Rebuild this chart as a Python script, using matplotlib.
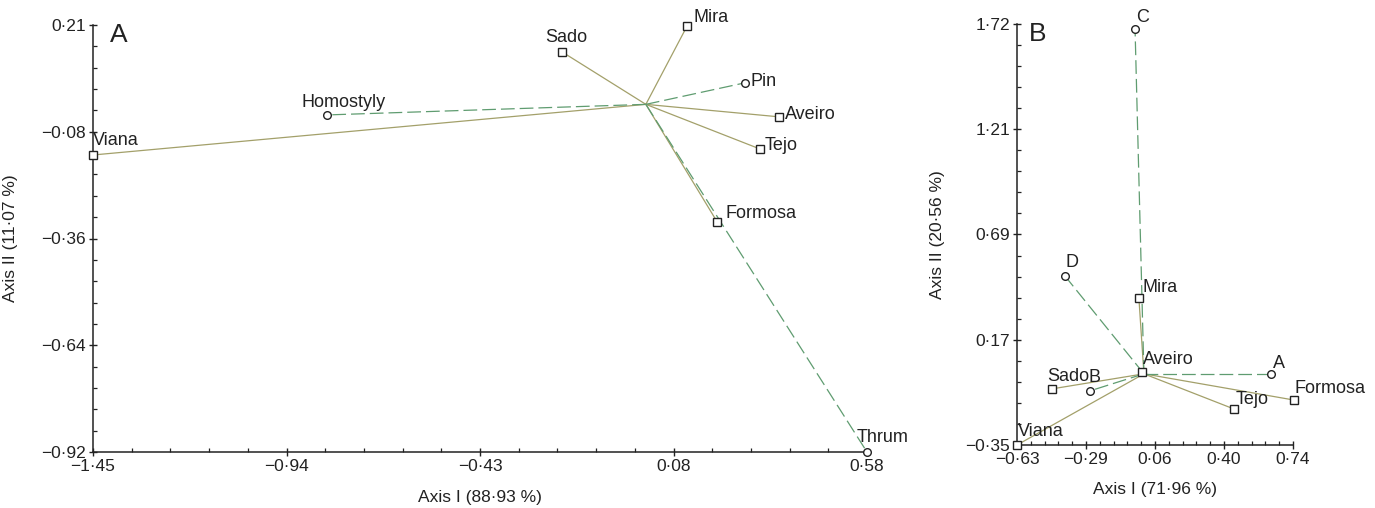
import numpy as np
import matplotlib
matplotlib.use("Agg")
import matplotlib.pyplot as plt
from matplotlib.ticker import FixedLocator

plt.rcParams['font.family'] = ['Liberation Sans', 'DejaVu Sans']

# ---- Panel A data (scores on axis I / axis II) ----
a_pops = ['Viana', 'Sado', 'Mira', 'Aveiro', 'Tejo', 'Formosa']
a_pop_x = [-1.45, -0.22, 0.108, 0.349, 0.299, 0.187]
a_pop_y = [-0.134, 0.139, 0.207, -0.033, -0.118, -0.311]
a_morphs = ['Homostyly', 'Pin', 'Thrum']
a_morph_x = [-0.836, 0.26, 0.58]
a_morph_y = [-0.028, 0.057, -0.92]
a_xticks = ['−1·45', '−0·94', '−0·43', '0·08', '0·58']
a_yticks = ['−0·92', '−0·64', '−0·36', '−0·08', '0·21']

# ---- Panel B data ----
b_pops = ['Viana', 'Sado', 'Mira', 'Aveiro', 'Tejo', 'Formosa']
b_pop_x = [-0.63, -0.456, -0.025, -0.01, 0.447, 0.745]
b_pop_y = [-0.35, -0.074, 0.373, 0.008, -0.173, -0.129]
b_morphs = ['A', 'B', 'C', 'D']
b_morph_x = [0.631, -0.268, -0.044, -0.392]
b_morph_y = [0.0, -0.084, 1.695, 0.481]
b_xticks = ['−0·63', '−0·29', '0·06', '0·40', '0·74']
b_yticks = ['−0·35', '0·17', '0·69', '1·21', '1·72']

OLIVE = '#a3a06a'
GREEN = '#5f9c70'
INK = '#222222'

# label offsets in pixels (dx, dy) from the marker, text left/centre anchored
a_off = {'Viana': (0, 14), 'Sado': (-17, 14), 'Mira': (6, 9), 'Aveiro': (6, 2),
         'Tejo': (5, 3), 'Formosa': (8, 8), 'Homostyly': (-26, 12),
         'Pin': (6, 1), 'Thrum': (-10, 14)}
b_off = {'Viana': (1, 13), 'Sado': (-5, 12), 'Mira': (4, 10), 'Aveiro': (1, 13),
         'Tejo': (2, 10), 'Formosa': (0, 12), 'A': (2, 10), 'B': (-1, 13),
         'C': (1, 12), 'D': (1, 13)}


def biplot(ax, px, py, pnames, mx, my, mnames, offs):
    for x, y in zip(px, py):
        ax.plot([0, x], [0, y], color=OLIVE, lw=0.9, zorder=2)
    for x, y in zip(mx, my):
        ax.plot([0, x], [0, y], color=GREEN, lw=0.9, dashes=(11, 4), zorder=2)
    ax.plot(px, py, 's', ms=6, mfc='white', mec=INK, mew=1.0,
            clip_on=False, zorder=4)
    ax.plot(mx, my, 'o', ms=5.5, mfc='white', mec=INK, mew=1.0,
            clip_on=False, zorder=4)
    for name, x, y in list(zip(pnames, px, py)) + list(zip(mnames, mx, my)):
        dx, dy = offs[name]
        ax.annotate(name, (x, y), xytext=(dx * 0.72, dy * 0.72),
                    textcoords='offset points', ha='left', va='center',
                    fontsize=13, color=INK, zorder=5, annotation_clip=False)


def style_axes(ax, xlim, ylim, xlabels, ylabels, xlabel, ylabel, letter,
               ylab_x, letter_dx):
    ax.set_xlim(xlim)
    ax.set_ylim(ylim)
    ax.set_xticks(np.linspace(xlim[0], xlim[1], 5))
    ax.set_xticklabels(xlabels)
    ax.set_yticks(np.linspace(ylim[0], ylim[1], 5))
    ax.set_yticklabels(ylabels)
    ax.xaxis.set_minor_locator(FixedLocator(np.linspace(xlim[0], xlim[1], 21)))
    ax.yaxis.set_minor_locator(FixedLocator(np.linspace(ylim[0], ylim[1], 21)))
    for s in ['top', 'right']:
        ax.spines[s].set_visible(False)
    for s in ['left', 'bottom']:
        ax.spines[s].set_linewidth(1.1)
        ax.spines[s].set_color(INK)
    ax.tick_params(which='major', direction='inout', length=6, width=1.0,
                   labelsize=12.5, colors=INK, pad=2)
    ax.tick_params(which='minor', direction='in', length=3, width=0.9,
                   colors=INK)
    ax.set_xlabel(xlabel, fontsize=12.5, color=INK)
    ax.set_ylabel(ylabel, fontsize=12.5, color=INK)
    ax.xaxis.set_label_coords(0.5, -0.088)
    ax.yaxis.set_label_coords(ylab_x, 0.5)
    ax.annotate(letter, (0, 1), xycoords='axes fraction',
                xytext=(letter_dx * 0.72, 1.5), textcoords='offset points',
                fontsize=19, ha='left', va='top', color=INK)


fig = plt.figure(figsize=(13.75, 5.08), dpi=100)
axA = fig.add_axes([93 / 1375, 1 - 452 / 508, 774 / 1375, 427 / 508])
axB = fig.add_axes([1017 / 1375, 1 - 445 / 508, 276 / 1375, 421 / 508])

biplot(axA, a_pop_x, a_pop_y, a_pops, a_morph_x, a_morph_y, a_morphs, a_off)
style_axes(axA, (-1.45, 0.58), (-0.92, 0.21), a_xticks, a_yticks,
           'Axis I (88·93 %)', 'Axis II (11·07 %)', 'A', -0.097, 17)

biplot(axB, b_pop_x, b_pop_y, b_pops, b_morph_x, b_morph_y, b_morphs, b_off)
style_axes(axB, (-0.63, 0.74), (-0.35, 1.72), b_xticks, b_yticks,
           'Axis I (71·96 %)', 'Axis II (20·56 %)', 'B', -0.26, 12)

fig.savefig('out.png', dpi=100)
